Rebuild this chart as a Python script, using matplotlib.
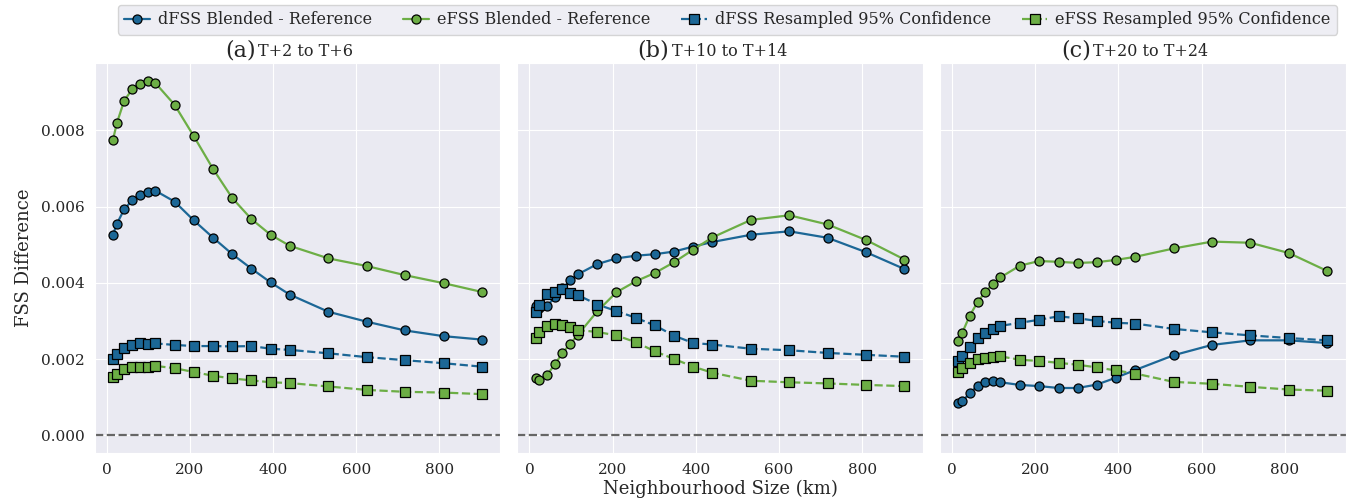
import numpy as np
import matplotlib
matplotlib.use("Agg")
import matplotlib.pyplot as plt
import seaborn as sns
from matplotlib.offsetbox import TextArea, HPacker, AnchoredOffsetbox

sns.set_style("darkgrid")
plt.rcParams['font.family'] = ['DejaVu Serif']

# neighbourhood sizes (km)
sizes = [15, 24, 42, 61, 79, 98, 116, 163, 209, 256, 302, 348, 394, 440, 533, 625, 717, 810, 902]

panel_letters = ["(a)", "(b)", "(c)"]
panel_leads = ["T+2 to T+6", "T+10 to T+14", "T+20 to T+24"]

# panel (a) T+2 to T+6
dfss_blend_a = [0.00526, 0.00554, 0.00593, 0.00616, 0.00630, 0.00639, 0.00642, 0.00613, 0.00564, 0.00518,
                0.00475, 0.00437, 0.00401, 0.00369, 0.00324, 0.00298, 0.00275, 0.00260, 0.00251]
efss_blend_a = [0.00775, 0.00818, 0.00878, 0.00907, 0.00922, 0.00930, 0.00925, 0.00867, 0.00785, 0.00698,
                0.00622, 0.00567, 0.00526, 0.00497, 0.00464, 0.00444, 0.00420, 0.00399, 0.00376]
dfss_conf_a = [0.00199, 0.00212, 0.00229, 0.00237, 0.00241, 0.00239, 0.00241, 0.00237, 0.00234, 0.00234,
               0.00233, 0.00234, 0.00227, 0.00224, 0.00215, 0.00205, 0.00197, 0.00189, 0.00180]
efss_conf_a = [0.00153, 0.00160, 0.00173, 0.00180, 0.00180, 0.00180, 0.00182, 0.00176, 0.00166, 0.00156,
               0.00149, 0.00144, 0.00139, 0.00137, 0.00128, 0.00119, 0.00114, 0.00112, 0.00108]

# panel (b) T+10 to T+14
dfss_blend_b = [0.00339, 0.00335, 0.00339, 0.00362, 0.00385, 0.00406, 0.00422, 0.00449, 0.00464, 0.00471,
                0.00475, 0.00482, 0.00495, 0.00507, 0.00526, 0.00535, 0.00518, 0.00480, 0.00436]
efss_blend_b = [0.00150, 0.00145, 0.00158, 0.00186, 0.00215, 0.00240, 0.00263, 0.00325, 0.00375, 0.00404,
                0.00426, 0.00454, 0.00487, 0.00519, 0.00565, 0.00577, 0.00553, 0.00512, 0.00461]
dfss_conf_b = [0.00323, 0.00341, 0.00370, 0.00376, 0.00383, 0.00372, 0.00368, 0.00343, 0.00326, 0.00308,
               0.00288, 0.00261, 0.00242, 0.00238, 0.00227, 0.00223, 0.00216, 0.00211, 0.00206]
efss_conf_b = [0.00256, 0.00270, 0.00287, 0.00291, 0.00288, 0.00283, 0.00276, 0.00271, 0.00262, 0.00244,
               0.00220, 0.00200, 0.00180, 0.00164, 0.00143, 0.00139, 0.00136, 0.00132, 0.00129]

# panel (c) T+20 to T+24
dfss_blend_c = [0.00085, 0.00089, 0.00110, 0.00130, 0.00140, 0.00142, 0.00139, 0.00132, 0.00129, 0.00124,
                0.00124, 0.00133, 0.00151, 0.00171, 0.00210, 0.00237, 0.00249, 0.00249, 0.00242]
efss_blend_c = [0.00247, 0.00268, 0.00313, 0.00349, 0.00375, 0.00397, 0.00414, 0.00445, 0.00457, 0.00455,
                0.00452, 0.00454, 0.00460, 0.00468, 0.00490, 0.00508, 0.00505, 0.00478, 0.00431]
dfss_conf_c = [0.00194, 0.00208, 0.00232, 0.00254, 0.00268, 0.00279, 0.00287, 0.00295, 0.00303, 0.00312,
               0.00307, 0.00300, 0.00295, 0.00293, 0.00279, 0.00270, 0.00262, 0.00255, 0.00249]
efss_conf_c = [0.00167, 0.00177, 0.00189, 0.00200, 0.00203, 0.00206, 0.00207, 0.00198, 0.00195, 0.00190,
               0.00185, 0.00178, 0.00170, 0.00162, 0.00140, 0.00135, 0.00127, 0.00120, 0.00117]

panels = [
    (dfss_blend_a, efss_blend_a, dfss_conf_a, efss_conf_a),
    (dfss_blend_b, efss_blend_b, dfss_conf_b, efss_conf_b),
    (dfss_blend_c, efss_blend_c, dfss_conf_c, efss_conf_c),
]

BLUE = '#1c6796'
GREEN = '#6cae45'

fig, axes = plt.subplots(1, 3, figsize=(13.51, 5.0), dpi=100, sharey=True)
fig.subplots_adjust(left=0.070, right=0.996, bottom=0.094, top=0.874, wspace=0.042)

for ax, data, letter, lead in zip(axes, panels, panel_letters, panel_leads):
    dblend, eblend, dconf, econf = data
    ax.axhline(0, color='#666666', ls='--', lw=1.6, zorder=1)
    ax.plot(sizes, dblend, '-o', color=BLUE, mec='black', mew=0.9, ms=6.5, lw=1.6,
            label='dFSS Blended - Reference')
    ax.plot(sizes, eblend, '-o', color=GREEN, mec='black', mew=0.9, ms=6.5, lw=1.6,
            label='eFSS Blended - Reference')
    ax.plot(sizes, dconf, '--s', color=BLUE, mec='black', mew=0.9, ms=6.5, lw=1.6,
            label='dFSS Resampled 95% Confidence')
    ax.plot(sizes, econf, '--s', color=GREEN, mec='black', mew=0.9, ms=6.5, lw=1.6,
            label='eFSS Resampled 95% Confidence')
    ax.tick_params(labelsize=11)
    ax.set_xticks([0, 200, 400, 600, 800])

    # title with big letter and smaller lead time text
    t1 = TextArea(letter, textprops=dict(fontsize=16, family='DejaVu Serif'))
    t2 = TextArea(lead, textprops=dict(fontsize=11.5, family='DejaVu Serif'))
    box = HPacker(children=[t1, t2], align='baseline', pad=0, sep=2)
    anchored = AnchoredOffsetbox(loc='lower center', child=box, pad=0, frameon=False,
                                 bbox_to_anchor=(0.48, 1.005), bbox_transform=ax.transAxes,
                                 borderpad=0)
    ax.add_artist(anchored)

axes[0].set_ylabel('FSS Difference', fontsize=13, labelpad=6)
axes[1].set_xlabel('Neighbourhood Size (km)', fontsize=13, labelpad=2)

handles, labels = axes[0].get_legend_handles_labels()
leg = fig.legend(handles, labels, loc='upper center', ncol=4, bbox_to_anchor=(0.5385, 1.0),
                 fontsize=11.5, frameon=True, facecolor='#eaeaf2', edgecolor='#cccccc',
                 columnspacing=1.95, handlelength=1.6, handletextpad=0.5, borderaxespad=0.3)

fig.savefig('out.png', dpi=100)
